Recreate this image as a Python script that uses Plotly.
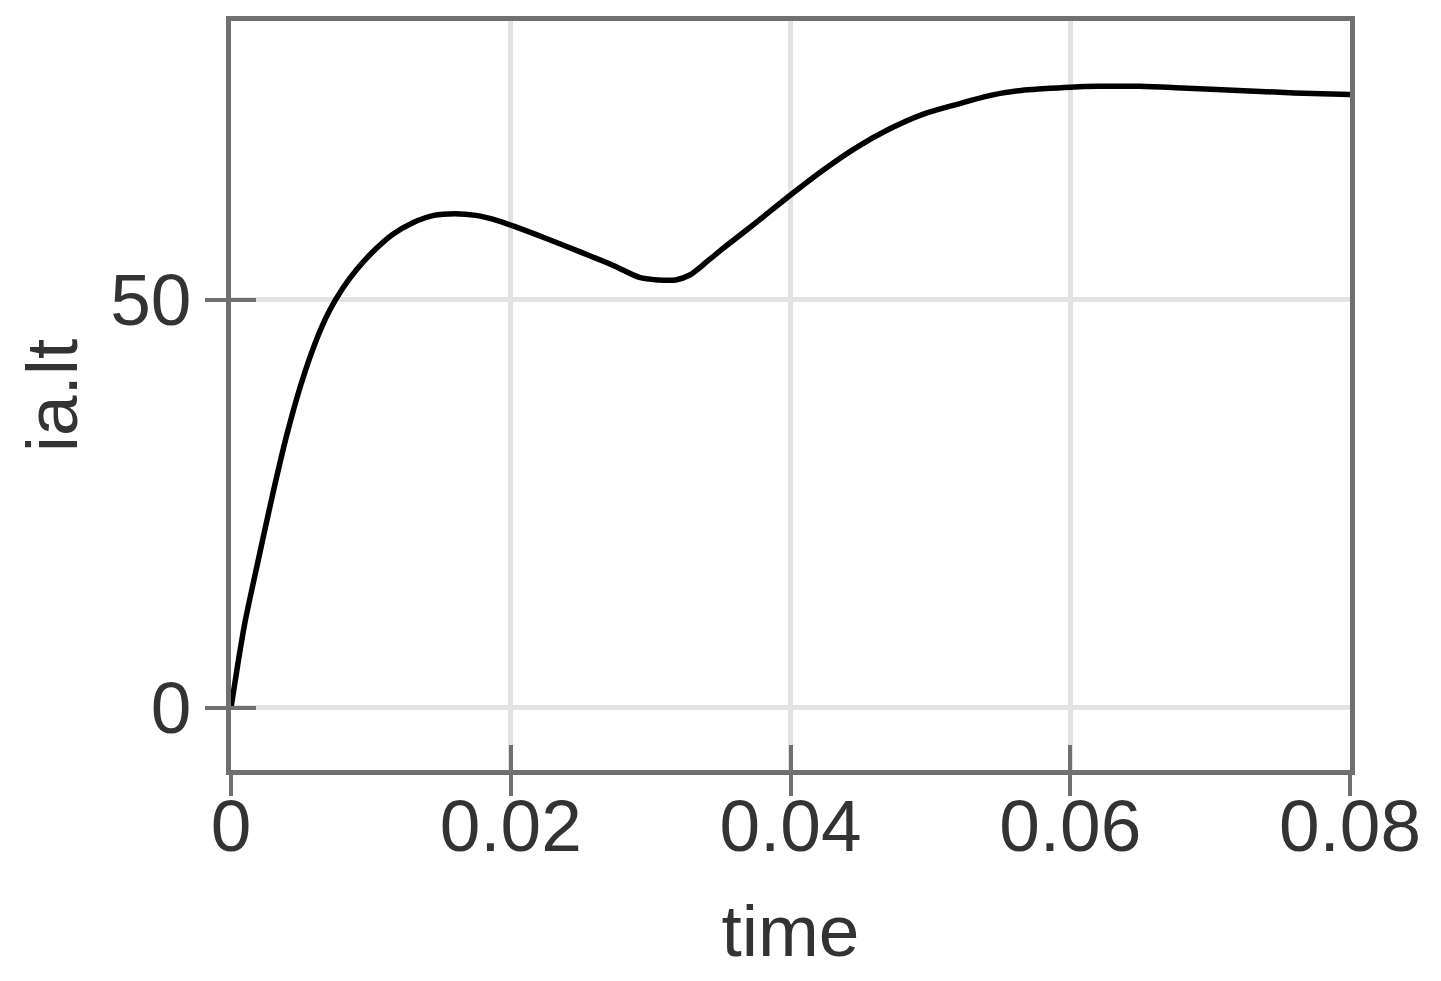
import plotly.graph_objects as go

time = [0, 0.0005, 0.001, 0.002, 0.003, 0.004, 0.005, 0.006, 0.007, 0.008,
        0.009, 0.010, 0.0115, 0.013, 0.0145, 0.016, 0.0175, 0.019, 0.0205,
        0.0225, 0.0250, 0.0273, 0.0292, 0.0305, 0.0318, 0.0328, 0.034, 0.0352,
        0.0364, 0.0376, 0.04, 0.0423, 0.0447, 0.0471, 0.0495, 0.0519, 0.0543,
        0.0565, 0.058, 0.06, 0.062, 0.065, 0.068, 0.072, 0.076, 0.08]
ia_lt = [0, 5.5, 10.5, 18.5, 26.3, 33.5, 39.6, 44.6, 48.5, 51.4,
         53.7, 55.6, 57.9, 59.4, 60.3, 60.5, 60.3, 59.7, 58.8,
         57.5, 55.8, 54.2, 52.7, 52.4, 52.4, 53.0, 54.6, 56.3,
         57.9, 59.5, 62.8, 65.8, 68.6, 70.9, 72.7, 73.9, 75.0,
         75.6, 75.8, 76.0, 76.1, 76.1, 75.9, 75.6, 75.3, 75.1]

x_ticks = [0, 0.02, 0.04, 0.06, 0.08]
x_ticktext = ["0", "0.02", "0.04", "0.06", "0.08"]
y_ticks = [0, 50]
y_ticktext = ["0", "50"]

x_range = [0, 0.08]
y_range = [-7.6, 84.1]

axis_col = "#707070"
grid_col = "#e2e2e2"
text_col = "#333333"
font_fam = "Liberation Sans, Arial, sans-serif"
fs = 73

fig = go.Figure()
fig.add_trace(go.Scatter(x=time, y=ia_lt, mode="lines",
                         line=dict(color="black", width=5.5, shape="spline", smoothing=0.8),
                         showlegend=False))
# invisible trace to activate overlay axes (outer halves of the ticks)
fig.add_trace(go.Scatter(x=[None], y=[None], xaxis="x2", yaxis="y2", showlegend=False))

fig.update_layout(
    width=1433, height=973,
    margin=dict(l=223, r=91, t=13, b=211, autoexpand=False),
    paper_bgcolor="white", plot_bgcolor="white",
    font=dict(family=font_fam, color=text_col, size=fs),
    xaxis=dict(range=x_range, tickvals=x_ticks, ticktext=x_ticktext,
               showgrid=True, gridcolor=grid_col, gridwidth=4.5,
               showline=True, linecolor=axis_col, linewidth=5, mirror=True,
               ticks="inside", ticklen=25, tickwidth=4, tickcolor=axis_col,
               tickfont=dict(size=fs, color=text_col), ticklabelstandoff=-12,
               title=dict(text="time", font=dict(size=fs, color=text_col), standoff=42),
               automargin=False, zeroline=False),
    yaxis=dict(range=y_range, tickvals=y_ticks, ticktext=y_ticktext,
               showgrid=True, gridcolor=grid_col, gridwidth=4.5,
               showline=True, linecolor=axis_col, linewidth=5, mirror=True,
               ticks="inside", ticklen=25, tickwidth=4, tickcolor=axis_col,
               tickfont=dict(size=fs, color=text_col), ticklabelstandoff=20,
               title=dict(text="ia.lt", font=dict(size=fs, color=text_col), standoff=10),
               automargin=False, zeroline=False),
    xaxis2=dict(range=x_range, tickvals=x_ticks, overlaying="x", side="bottom",
                showticklabels=False, showgrid=False, showline=False,
                ticks="outside", ticklen=25, tickwidth=4, tickcolor=axis_col,
                automargin=False, zeroline=False),
    yaxis2=dict(range=y_range, tickvals=y_ticks, overlaying="y", side="left",
                showticklabels=False, showgrid=False, showline=False,
                ticks="outside", ticklen=25, tickwidth=4, tickcolor=axis_col,
                automargin=False, zeroline=False),
)

fig.write_html("out.html")
